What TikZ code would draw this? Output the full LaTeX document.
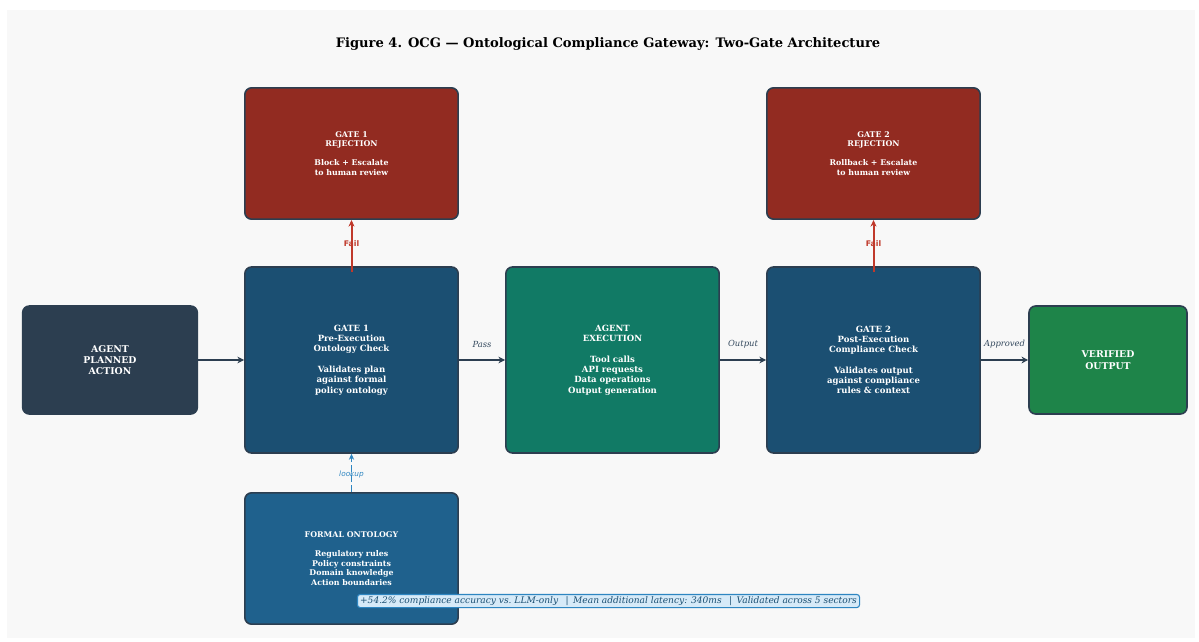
\documentclass[tikz,border=0pt]{standalone}
\usepackage{fontspec}
\setmainfont{DejaVu Serif}
\newfontfamily\lblsans{DejaVu Sans}
\usetikzlibrary{arrows.meta}
\definecolor{panel}{HTML}{F8F8F8}
\definecolor{edge}{HTML}{2C3E50}
\definecolor{slate}{HTML}{2C3E50}
\definecolor{gateblue}{HTML}{1B4F72}
\definecolor{execgreen}{HTML}{117A65}
\definecolor{okgreen}{HTML}{1E8449}
\definecolor{rejred}{HTML}{922B21}
\definecolor{ontoblue}{HTML}{1F618D}
\definecolor{failred}{HTML}{C0392B}
\definecolor{lookblue}{HTML}{2E86C1}
\definecolor{notefill}{HTML}{D6EAF8}
\definecolor{notetext}{HTML}{1B4F72}
\definecolor{lbl}{HTML}{34495E}
\tikzset{
  box/.style={draw=edge, line width=1.2pt, rounded corners=5pt, text=white,
    align=center, inner sep=0pt, font=\bfseries\fontsize{6.4}{7.7}\selectfont},
  smallbox/.style={box, font=\bfseries\fontsize{5.9}{7.1}\selectfont},
  bigbox/.style={box, font=\bfseries\fontsize{7.0}{8.5}\selectfont},
  flow/.style={draw=slate, line width=1.7pt, -{Stealth[length=5pt,width=5pt]}},
  failarrow/.style={draw=failred, line width=1.5pt, -{Stealth[length=5pt,width=4.5pt]}},
  lookarrow/.style={draw=lookblue, line width=1.3pt, dash pattern=on 5pt off 2.5pt, -{Stealth[length=4.5pt,width=4pt]}},
  flowlabel/.style={font=\itshape\fontsize{6.3}{7}\selectfont, text=lbl},
  faillabel/.style={font=\lblsans\bfseries\fontsize{5.8}{6.5}\selectfont, text=failred},
  looklabel/.style={font=\lblsans\itshape\fontsize{5.5}{6.2}\selectfont, text=lookblue},
}
\begin{document}
\begin{tikzpicture}[x=0.75pt, y=-0.75pt]
  \useasboundingbox (0,0) rectangle (1199,642);
  \fill[panel] (7,10) rectangle (1195,638);

  \node[font=\bfseries\fontsize{9.8}{12}\selectfont, text=black] (title) at (608,44)
    {Figure 4. OCG — Ontological Compliance Gateway: Two-Gate Architecture};

  \node[bigbox, fill=slate, minimum width=131pt, minimum height=81pt] (plan) at (110,360)
    {AGENT\\PLANNED\\ACTION};
  \node[box, fill=gateblue, minimum width=160pt, minimum height=139.5pt] (gate1) at (351.5,360)
    {GATE 1\\Pre-Execution\\Ontology Check\\[7.7pt]Validates plan\\against formal\\policy ontology};
  \node[box, fill=execgreen, minimum width=160pt, minimum height=139.5pt] (exec) at (612.5,360)
    {AGENT\\EXECUTION\\[7.7pt]Tool calls\\API requests\\Data operations\\Output generation};
  \node[box, fill=gateblue, minimum width=160pt, minimum height=139.5pt] (gate2) at (873.5,360)
    {GATE 2\\Post-Execution\\Compliance Check\\[7.7pt]Validates output\\against compliance\\rules \& context};
  \node[bigbox, fill=okgreen, minimum width=118.5pt, minimum height=81pt] (done) at (1108,360)
    {VERIFIED\\OUTPUT};

  \node[smallbox, fill=rejred, minimum width=160pt, minimum height=98.5pt] (rej1) at (351.5,153.5)
    {GATE 1\\REJECTION\\[7.1pt]Block + Escalate\\to human review};
  \node[smallbox, fill=rejred, minimum width=160pt, minimum height=98.5pt] (rej2) at (873.5,153.5)
    {GATE 2\\REJECTION\\[7.1pt]Rollback + Escalate\\to human review};

  \node[smallbox, fill=ontoblue, minimum width=160pt, minimum height=98.5pt] (onto) at (351.5,558.5)
    {FORMAL ONTOLOGY\\[7.1pt]Regulatory rules\\Policy constraints\\Domain knowledge\\Action boundaries};

  % main flow
  \draw[flow] (plan) -- (gate1);
  \draw[flow] (gate1) -- node[flowlabel, above=5pt] {Pass} (exec);
  \draw[flow] (exec) -- node[flowlabel, above=5pt] {Output} (gate2);
  \draw[flow] (gate2) -- node[flowlabel, above=5pt] {Approved} (done);

  % rejection paths
  \draw[failarrow] ([yshift=-4.5pt]gate1.north) -- node[faillabel, pos=0.55] {Fail} (rej1.south);
  \draw[failarrow] ([yshift=-4.5pt]gate2.north) -- node[faillabel, pos=0.55] {Fail} (rej2.south);

  % ontology lookup
  \draw[lookarrow] (onto.north) -- node[looklabel, pos=0.45] {lookup} (gate1.south);

  % summary note
  \node[draw=lookblue, fill=notefill, line width=0.8pt, rounded corners=2pt, inner xsep=2pt, inner ysep=1.5pt,
        font=\itshape\fontsize{6.8}{8}\selectfont, text=notetext] (note) at (608.5,601)
    {+54.2\% compliance accuracy vs.\ LLM-only \enspace|\enspace Mean additional latency: 340ms \enspace|\enspace Validated across 5 sectors};
\end{tikzpicture}
\end{document}
